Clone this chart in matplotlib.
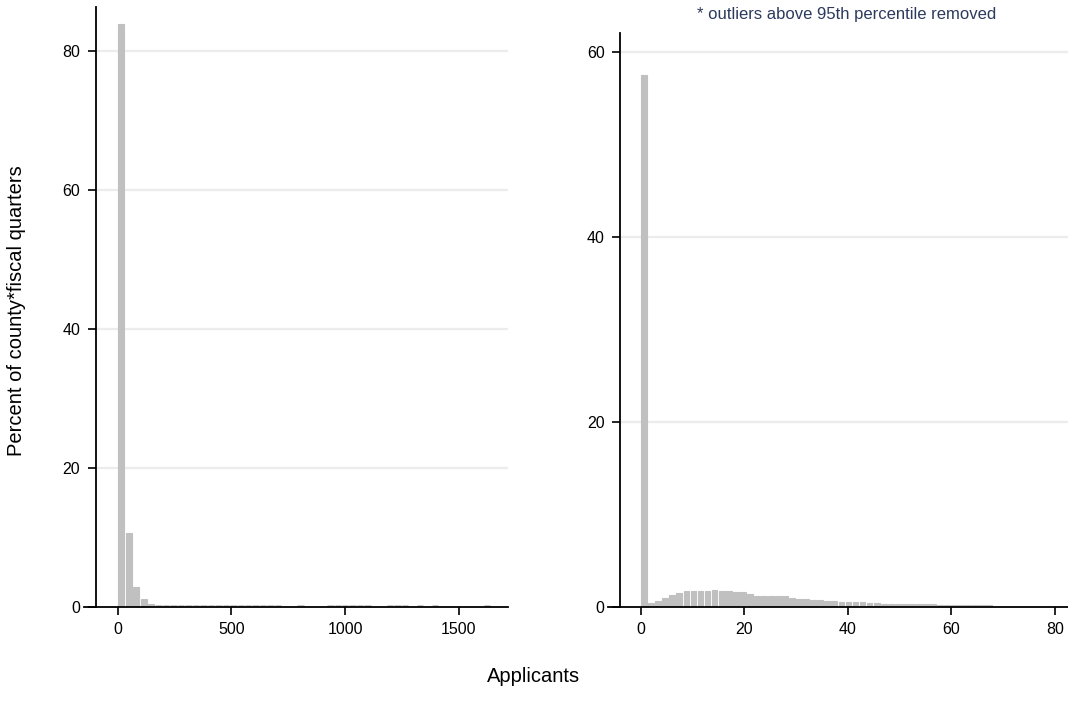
import numpy as np
import matplotlib
matplotlib.use("Agg")
import matplotlib.pyplot as plt

plt.rcParams['font.family'] = ['Liberation Sans', 'DejaVu Sans']

# ---- data: percent of county*fiscal quarters per histogram bin ----
# all applicants: 50 bins starting at 0
all_bin_width = 32.8
all_pct = [83.8, 10.7, 2.9, 1.1, 0.5,
           0.05, 0.05, 0.05, 0.05, 0.05, 0.05, 0.05, 0.05, 0.05, 0.05,
           0.05, 0.05, 0.05, 0.05, 0.05, 0.05, 0.05,
           0.0, 0.0, 0.04, 0.0, 0.0, 0.0,
           0.04, 0.04, 0.04, 0.04, 0.04, 0.04,
           0.0, 0.0, 0.04, 0.04, 0.04, 0.0, 0.04, 0.0, 0.04,
           0.0, 0.0, 0.0, 0.0, 0.0, 0.0, 0.04]

# trimmed applicants (outliers above 95th percentile removed): 50 bins
trim_bin_width = 1.36
trim_pct = [57.5, 0.38, 0.62, 1.0, 1.25, 1.55, 1.68, 1.68, 1.68, 1.68,
            1.8, 1.68, 1.68, 1.58, 1.58, 1.44, 1.15, 1.15, 1.15, 1.15,
            1.15, 1.0, 0.9, 0.9, 0.79, 0.79, 0.68, 0.68, 0.58, 0.58,
            0.58, 0.58, 0.47, 0.47, 0.36, 0.36, 0.36, 0.36, 0.36, 0.36,
            0.36, 0.36, 0.25, 0.25, 0.25, 0.25, 0.25, 0.25, 0.25, 0.18]

left_yticks = [0, 20, 40, 60, 80]
left_xticks = [0, 500, 1000, 1500]
right_yticks = [0, 20, 40, 60]
right_xticks = [0, 20, 40, 60, 80]

y_label = "Percent of county*fiscal quarters"
x_label = "Applicants"
note = "* outliers above 95th percentile removed"

BAR = "#c0c0c0"
GRID = "#ececec"
NOTE = "#2c3a5e"

W, H = 1068, 711
fig = plt.figure(figsize=(W / 100, H / 100), dpi=100)


def px_axes(x0, x1, y_top, y_bot):
    return fig.add_axes([x0 / W, (H - y_bot) / H, (x1 - x0) / W, (y_bot - y_top) / H])


def draw_hist(ax, pct, bw, xlim, ylim, yspine_x, yticks, xticks):
    pct = np.asarray(pct)
    lefts = np.arange(len(pct)) * bw
    big = pct >= 0.1
    tiny = (pct > 0) & ~big
    ax.bar(lefts[big] + bw * 0.09, pct[big], width=bw * 0.82, align='edge',
           color=BAR, edgecolor=BAR, linewidth=0.8, zorder=2)
    # near-zero bins still show their outline as a short dash on the axis
    ax.hlines(pct[tiny], lefts[tiny] + bw * 0.07, lefts[tiny] + bw * 0.93,
              colors=BAR, linewidth=3.4, capstyle='butt', zorder=2)
    ax.set_xlim(*xlim)
    ax.set_ylim(*ylim)
    # light horizontal grid starting at the y axis
    frac = (yspine_x - xlim[0]) / (xlim[1] - xlim[0])
    for t in yticks[1:]:
        ax.axhline(t, xmin=frac, xmax=1, color=GRID, linewidth=1.6, zorder=1)
    for s in ('top', 'right'):
        ax.spines[s].set_visible(False)
    ax.spines['left'].set_position(('data', yspine_x))
    for s in ('left', 'bottom'):
        ax.spines[s].set_linewidth(1.3)
        ax.spines[s].set_color('black')
        ax.spines[s].set_zorder(3)
    ax.set_yticks(yticks)
    ax.set_xticks(xticks)
    ax.tick_params(axis='both', direction='out', length=6, width=1.2,
                   labelsize=11.5, colors='black', pad=5)
    ax.patch.set_alpha(0)


# left panel: all applicants
axL = px_axes(84, 508, 7, 607)
draw_hist(axL, all_pct, all_bin_width, (-148, 1716), (0, 86.3), -97,
          left_yticks, left_xticks)

# right panel: trimmed
axR = px_axes(608, 1068, 33, 607)
draw_hist(axR, trim_pct, trim_bin_width, (-6.3, 82.5), (0, 62.05), -4.0,
          right_yticks, right_xticks)

fig.text(17 / W, 1 - 311 / H, y_label, rotation=90, ha='center', va='center',
         fontsize=14.5, color='black')
fig.text(534 / W, 1 - 676 / H, x_label, ha='center', va='center',
         fontsize=14.5, color='black')
fig.text(847 / W, 1 - 14 / H, note, ha='center', va='center',
         fontsize=12, color=NOTE)

fig.savefig("out.png", dpi=100, facecolor='white')
